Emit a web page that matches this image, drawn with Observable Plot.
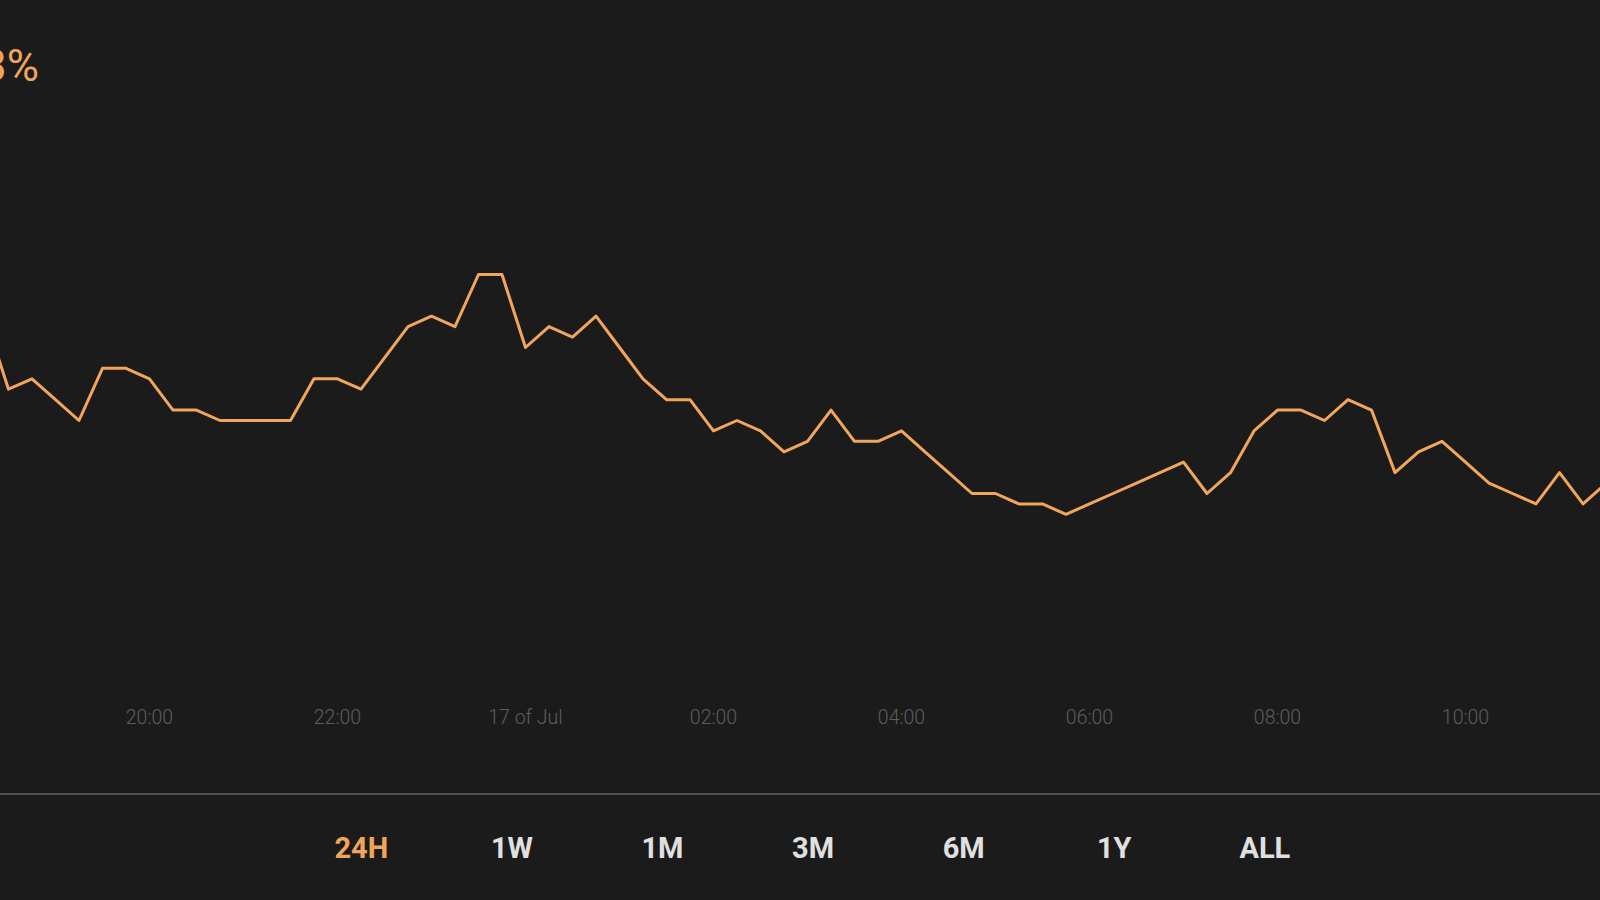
<!DOCTYPE html>
<html>
<head>
<meta charset="utf-8">
<script src="https://cdn.jsdelivr.net/npm/d3@7"></script>
<script src="https://cdn.jsdelivr.net/npm/@observablehq/plot@0.6"></script>
<style>
  html, body { margin: 0; padding: 0; background: #1b1b1b; width: 1600px; height: 900px; overflow: hidden; font-family: Roboto, "Noto Sans", sans-serif; }
  #wrap { position: relative; width: 1600px; height: 900px; overflow: hidden; background: #1b1b1b; }
  #pct { position: absolute; top: 44px; left: -18px; color: #F0A55A; font-size: 44px; line-height: 1; font-weight: 400; white-space: nowrap; }
  #chart { position: absolute; left: 0; top: 0; }
  #chart svg { overflow: hidden; }
  #sep { position: absolute; left: 0; top: 793px; width: 1600px; height: 2px; background: #505050; }
  #ranges { position: absolute; top: 834px; left: 286px; display: flex; }
  #ranges span { display: block; width: 150.6px; text-align: center; font-weight: 700; font-size: 29px; line-height: 1; color: #e0e0e0; }
  #ranges span.active { color: #F0A55A; }
</style>
</head>
<body>
<div id="wrap">
  <div id="chart"></div>
  <div id="pct"></div>
  <div id="sep"></div>
  <div id="ranges"></div>
</div>
<script>
// 15-minute samples, 16 Jul 18:15 -> 17 Jul 11:30 (UTC)
const sampleTimes = [
  "2023-07-16T18:15","2023-07-16T18:30","2023-07-16T18:45","2023-07-16T19:00","2023-07-16T19:15",
  "2023-07-16T19:30","2023-07-16T19:45","2023-07-16T20:00","2023-07-16T20:15","2023-07-16T20:30",
  "2023-07-16T20:45","2023-07-16T21:00","2023-07-16T21:15","2023-07-16T21:30","2023-07-16T21:45",
  "2023-07-16T22:00","2023-07-16T22:15","2023-07-16T22:30","2023-07-16T22:45","2023-07-16T23:00",
  "2023-07-16T23:15","2023-07-16T23:30","2023-07-16T23:45","2023-07-17T00:00","2023-07-17T00:15",
  "2023-07-17T00:30","2023-07-17T00:45","2023-07-17T01:00","2023-07-17T01:15","2023-07-17T01:30",
  "2023-07-17T01:45","2023-07-17T02:00","2023-07-17T02:15","2023-07-17T02:30","2023-07-17T02:45",
  "2023-07-17T03:00","2023-07-17T03:15","2023-07-17T03:30","2023-07-17T03:45","2023-07-17T04:00",
  "2023-07-17T04:15","2023-07-17T04:30","2023-07-17T04:45","2023-07-17T05:00","2023-07-17T05:15",
  "2023-07-17T05:30","2023-07-17T05:45","2023-07-17T06:00","2023-07-17T06:15","2023-07-17T06:30",
  "2023-07-17T06:45","2023-07-17T07:00","2023-07-17T07:15","2023-07-17T07:30","2023-07-17T07:45",
  "2023-07-17T08:00","2023-07-17T08:15","2023-07-17T08:30","2023-07-17T08:45","2023-07-17T09:00",
  "2023-07-17T09:15","2023-07-17T09:30","2023-07-17T09:45","2023-07-17T10:00","2023-07-17T10:15",
  "2023-07-17T10:30","2023-07-17T10:45","2023-07-17T11:00","2023-07-17T11:15","2023-07-17T11:30"
];
const priceValues = [
  1.850, 1.843, 1.844, 1.842, 1.840,
  1.845, 1.845, 1.844, 1.841, 1.841,
  1.840, 1.840, 1.840, 1.840, 1.844,
  1.844, 1.843, 1.846, 1.849, 1.850,
  1.849, 1.854, 1.854, 1.847, 1.849,
  1.848, 1.850, 1.847, 1.844, 1.842,
  1.842, 1.839, 1.840, 1.839, 1.837,
  1.838, 1.841, 1.838, 1.838, 1.839,
  1.837, 1.835, 1.833, 1.833, 1.832,
  1.832, 1.831, 1.832, 1.833, 1.834,
  1.835, 1.836, 1.833, 1.835, 1.839,
  1.841, 1.841, 1.840, 1.842, 1.841,
  1.835, 1.837, 1.838, 1.836, 1.834,
  1.833, 1.832, 1.835, 1.832, 1.834
];
const tickTimes = [
  "2023-07-16T20:00","2023-07-16T22:00","2023-07-17T00:00","2023-07-17T02:00",
  "2023-07-17T04:00","2023-07-17T06:00","2023-07-17T08:00","2023-07-17T10:00"
];
const tickLabels = ["20:00","22:00","17 of Jul","02:00","04:00","06:00","08:00","10:00"];
const visibleWindow = ["2023-07-16T18:24:54", "2023-07-17T11:26:10"];
const priceWindow = [1.840, 1.854];
const changeText = "3%";
const rangeLabels = ["24H","1W","1M","3M","6M","1Y","ALL"];
const activeRange = "24H";

const utc = s => new Date(s + "Z");
const data = sampleTimes.map((t, i) => ({time: utc(t), price: priceValues[i]}));
const ticks = tickTimes.map(utc);
const labelMap = new Map(ticks.map((d, i) => [+d, tickLabels[i]]));

const chart = Plot.plot({
  width: 1600,
  height: 760,
  marginTop: 0, marginLeft: 0, marginRight: 0, marginBottom: 60,
  style: { background: "transparent", fontFamily: "Roboto, 'Noto Sans', sans-serif", fontSize: "19.5px", color: "#5e5e5e" },
  x: { type: "utc", domain: visibleWindow.map(utc), range: [0, 1600] },
  y: { domain: priceWindow, range: [420, 274], axis: null },
  marks: [
    Plot.line(data, { x: "time", y: "price", stroke: "#F2A65A", strokeWidth: 3 }),
    Plot.axisX({ ticks, tickFormat: d => labelMap.get(+d), anchor: "bottom", tickSize: 0, tickPadding: 10, label: null, fill: "#5e5e5e", fontWeight: 300 })
  ]
});
document.getElementById("chart").appendChild(chart);
document.getElementById("pct").textContent = changeText;
const ranges = document.getElementById("ranges");
for (const r of rangeLabels) {
  const s = document.createElement("span");
  s.textContent = r;
  if (r === activeRange) s.className = "active";
  ranges.appendChild(s);
}
</script>
</body>
</html>
